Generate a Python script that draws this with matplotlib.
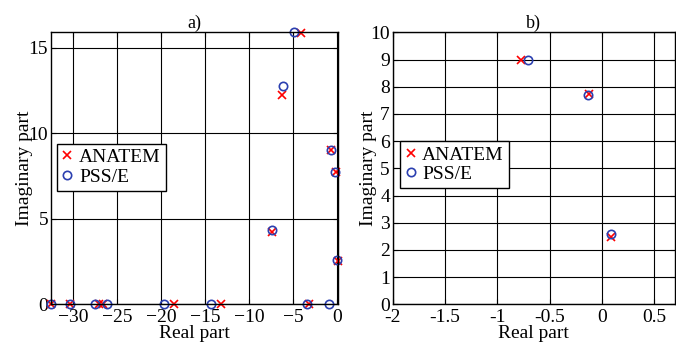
import matplotlib.pyplot as plt

plt.rcParams.update({
    "font.family": "Liberation Serif",
    "font.size": 14,
    "xtick.direction": "in",
    "ytick.direction": "in",
    "xtick.top": True,
    "ytick.right": True,
    "ytick.major.pad": 2,
})

# panel a) - full eigenvalue spectrum
a_anatem_re = [-32.45, -30.38, -27.0, -26.6, -18.5, -13.2, -3.18, -4.05, -6.29, -0.72, -0.10, -7.39, 0.08]
a_anatem_im = [0.0, 0.0, 0.0, 0.0, 0.0, 0.0, 0.0, 15.85, 12.22, 9.0, 7.72, 4.2, 2.53]
a_psse_re = [-32.45, -30.38, -27.5, -26.1, -19.7, -14.27, -3.47, -0.95, -4.85, -6.2, -0.72, -0.19, -7.39, 0.0]
a_psse_im = [0.0, 0.0, 0.0, 0.0, 0.0, 0.0, 0.0, 0.0, 15.9, 12.77, 9.03, 7.72, 4.35, 2.57]

# panel b) - zoom near the imaginary axis
b_anatem_re = [-0.775, -0.127, 0.092]
b_anatem_im = [9.0, 7.72, 2.46]
b_psse_re = [-0.705, -0.133, 0.086]
b_psse_im = [9.0, 7.70, 2.57]

fig = plt.figure(figsize=(6.76, 3.43), dpi=100)
ax1 = fig.add_axes([0.0754, 0.1128, 0.4246, 0.793])
ax2 = fig.add_axes([0.581, 0.1128, 0.4175, 0.793])


def draw(ax, are, aim, pre, pim, ypad):
    ax.plot(are, aim, "x", color="red", ms=6, mew=1.2, ls="none", label="ANATEM", clip_on=False)
    ax.plot(pre, pim, "o", color="#2b3fb0", mfc="none", ms=6, mew=1.2, ls="none",
            label="PSS/E", clip_on=False)
    ax.grid(True, color="black", lw=0.8)
    ax.set_axisbelow(True)
    for s in ax.spines.values():
        s.set_linewidth(1.0)
    ax.set_xlabel("Real part", labelpad=-1)
    ax.set_ylabel("Imaginary part", labelpad=ypad)
    leg = ax.legend(loc="upper left", fancybox=False, edgecolor="black", framealpha=1,
                    handlelength=0.6, handletextpad=0.3, borderpad=0.25, labelspacing=0.1,
                    borderaxespad=0)
    leg.get_frame().set_linewidth(1.0)
    return leg


leg1 = draw(ax1, a_anatem_re, a_anatem_im, a_psse_re, a_psse_im, -3)
ax1.set_xlim(-32.5, 0.1)
ax1.set_ylim(0, 15.9)
ax1.set_xticks([-30, -25, -20, -15, -10, -5, 0])
ax1.set_yticks([0, 5, 10, 15])
ax1.set_title("a)", fontsize=13, pad=2)
leg1.set_bbox_to_anchor((0.02, 0.59), transform=ax1.transAxes)

leg2 = draw(ax2, b_anatem_re, b_anatem_im, b_psse_re, b_psse_im, -5)
ax2.set_xlim(-2, 0.7)
ax2.set_ylim(0, 10)
ax2.set_xticks([-2, -1.5, -1, -0.5, 0, 0.5])
ax2.set_xticklabels(["-2", "-1.5", "-1", "-0.5", "0", "0.5"])
ax2.set_yticks(range(0, 11))
ax2.set_title("b)", fontsize=13, pad=2)
leg2.set_bbox_to_anchor((0.025, 0.60), transform=ax2.transAxes)

fig.savefig("out.png", dpi=100)
